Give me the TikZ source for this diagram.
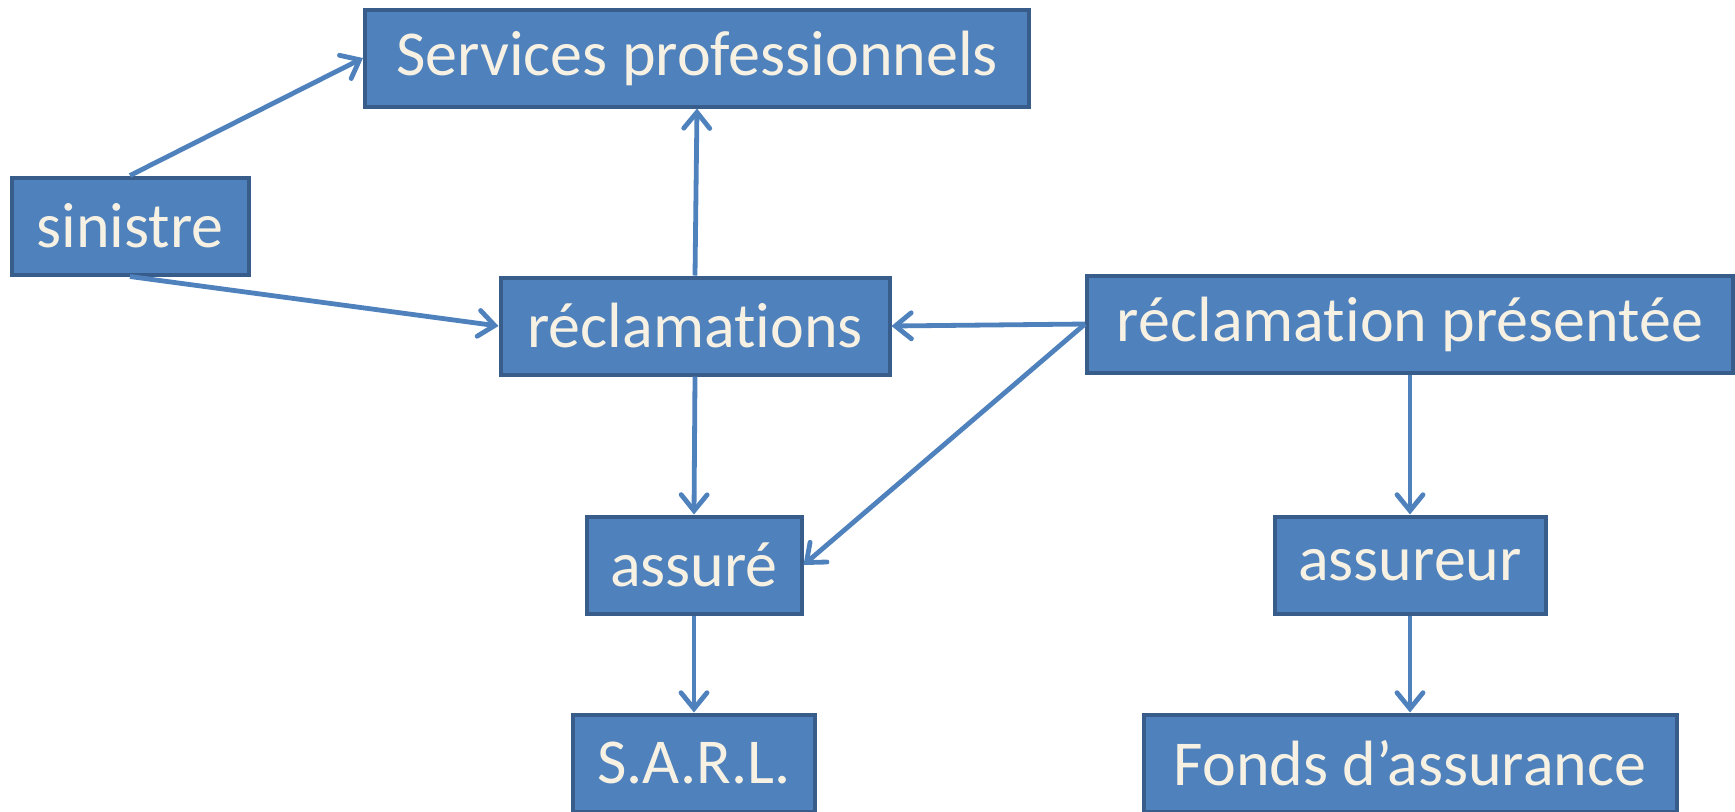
\documentclass[tikz,border=0pt]{standalone}
\usepackage{fontspec}
\setmainfont{Carlito}[Ligatures=NoCommon]
\usetikzlibrary{arrows.meta}

\definecolor{boxfill}{HTML}{4F81BD}
\definecolor{boxline}{HTML}{385D8A}
\definecolor{boxtext}{HTML}{F6F1E3}

\begin{document}
\begin{tikzpicture}[x=0.5pt, y=-0.5pt,
    box/.style={draw=boxline, fill=boxfill, line width=2pt, inner sep=0pt,
      minimum height=48.5pt, text=boxtext, font=\fontsize{32}{36}\selectfont},
    link/.style={draw=boxfill, line width=2.4pt,
      -{Straight Barb[length=8pt, width=13pt, line cap=round]}}]
  \useasboundingbox (0,0) rectangle (1735,811);

  % Boxes
  \node[box, minimum width=332pt]   (serv)  at (697,58)   {Services professionnels};
  \node[box, minimum width=118.5pt] (sin)   at (130,226)  {sinistre};
  \node[box, minimum width=194.5pt] (recl)  at (695,326)  {réclamations};
  \node[box, minimum width=323pt]   (pres)  at (1410,324) {réclamation présentée};
  \node[box, minimum width=107.5pt] (ass)   at (694,565)  {assuré};
  \node[box, minimum width=135.5pt] (asr)   at (1410,565) {assureur};
  \node[box, minimum width=121pt]   (sarl)  at (694,763)  {S.A.R.L.};
  \node[box, minimum width=266.5pt] (fonds) at (1410,763) {Fonds d’assurance};

  % Links
  \draw[link] (sin.north) -- (serv.west);
  \draw[link] (sin.south) -- (recl.west);
  \draw[link] (recl.north) -- (serv.south);
  \draw[link] (pres.west) -- (recl.east);
  \draw[link] (pres.west) -- (ass.east);
  \draw[link] (recl.south) -- (ass.north);
  \draw[link] (ass.south) -- (sarl.north);
  \draw[link] (pres.south) -- (asr.north);
  \draw[link] (asr.south) -- (fonds.north);
\end{tikzpicture}
\end{document}
